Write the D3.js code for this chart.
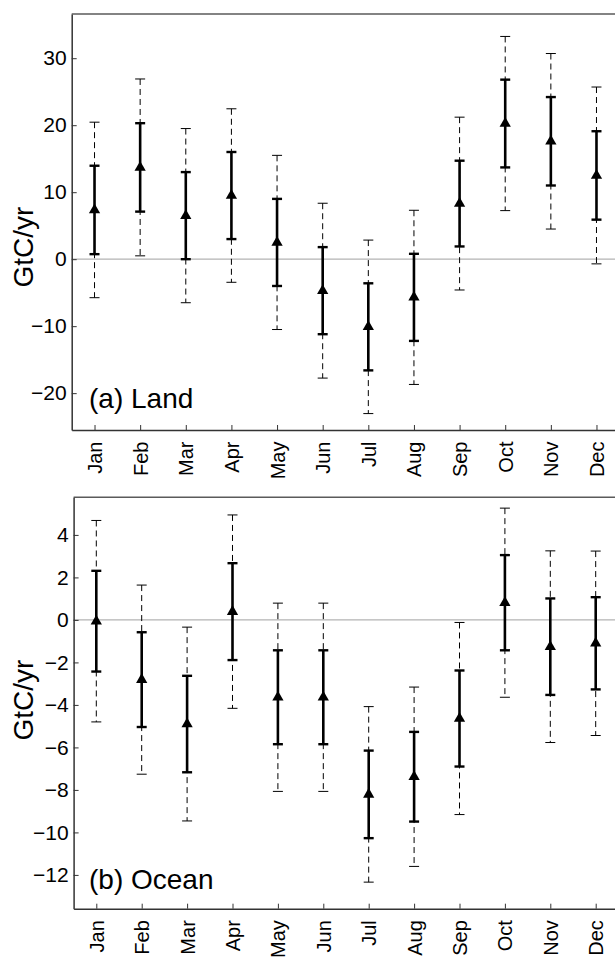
<!DOCTYPE html>
<html><head><meta charset="utf-8">
<script src="https://cdn.jsdelivr.net/npm/d3@7"></script>
<style>
html,body{margin:0;padding:0;background:#fff;}
svg{display:block;font-family:"Liberation Sans",Arial,Helvetica,sans-serif;}
</style></head>
<body><svg id="chart" width="615" height="957"></svg>
<script>
const months = ["Jan","Feb","Mar","Apr","May","Jun","Jul","Aug","Sep","Oct","Nov","Dec"];

const landMean  = [7.35, 13.7, 6.5, 9.5, 2.5, -4.7, -10.1, -5.7, 8.3, 20.25, 17.6, 12.5];
const landInner = [6.6, 6.6, 6.5, 6.5, 6.5, 6.5, 6.5, 6.5, 6.4, 6.55, 6.6, 6.6];
const landOuter = [13.1, 13.2, 13.0, 12.95, 13.0, 13.05, 12.95, 13.0, 12.9, 13.0, 13.1, 13.2];
const landTicks = [-20, -10, 0, 10, 20, 30];

const oceanMean  = [-0.06, -2.81, -4.9, 0.39, -3.64, -3.64, -8.21, -7.38, -4.64, 0.81, -1.26, -1.1];
const oceanInner = [2.37, 2.23, 2.27, 2.28, 2.21, 2.21, 2.06, 2.11, 2.26, 2.24, 2.27, 2.17];
const oceanOuter = [4.74, 4.45, 4.56, 4.55, 4.43, 4.43, 4.13, 4.22, 4.52, 4.45, 4.51, 4.34];
const oceanTicks = [-12, -10, -8, -6, -4, -2, 0, 2, 4];

const svg = d3.select("#chart");

function panel(cfg) {
  const x = d3.scaleLinear().domain([0.5, 12.5]).range([cfg.left, cfg.right]);
  const y = d3.scaleLinear().domain(cfg.ydom).range([cfg.bottom, cfg.top]);
  const g = svg.append("g");

  // zero line
  g.append("line").attr("x1", cfg.left).attr("x2", 615)
    .attr("y1", y(0)).attr("y2", y(0))
    .attr("stroke", "#b3b3b3").attr("stroke-width", 1.2);

  // top frame
  g.append("line").attr("x1", cfg.left).attr("x2", 615)
    .attr("y1", cfg.top).attr("y2", cfg.top)
    .attr("stroke", "#5a5a5a").attr("stroke-width", 1.5);

  // y axis
  const ya = g.append("g").attr("transform", `translate(${cfg.left},0)`)
    .call(d3.axisLeft(y).tickValues(cfg.ticks).tickSizeInner(-5).tickSizeOuter(0).tickPadding(5));
  ya.select(".domain").attr("stroke", "#333").attr("stroke-width", 1.5);
  ya.selectAll(".tick line").attr("stroke", "#333").attr("stroke-width", 1);
  ya.selectAll(".tick text").attr("font-size", 21).attr("fill", "#000")
    .attr("font-family", "'Liberation Sans',Arial,Helvetica,sans-serif");

  // x axis
  const xa = g.append("g").attr("transform", `translate(0,${cfg.bottom})`)
    .call(d3.axisBottom(x).tickValues(d3.range(1, 13)).tickFormat(d => months[d - 1])
      .tickSizeInner(-5).tickSizeOuter(0));
  xa.select(".domain").attr("stroke", "#333").attr("stroke-width", 1.5);
  xa.selectAll(".tick line").attr("stroke", "#333").attr("stroke-width", 1);
  xa.selectAll(".tick text")
    .attr("font-size", 20).attr("fill", "#000")
    .attr("font-family", "'Liberation Sans',Arial,Helvetica,sans-serif")
    .attr("text-anchor", "end")
    .attr("transform", "rotate(-90)")
    .attr("x", -11.5).attr("y", 0).attr("dy", "0.35em");

  const data = cfg.mean.map((m, i) => ({ i: i + 1, m, inner: cfg.inner[i], outer: cfg.outer[i] }));
  const cap = 5;
  const bars = g.selectAll(".bar").data(data).enter().append("g").attr("class", "bar");

  // outer dashed
  bars.append("line")
    .attr("x1", d => x(d.i)).attr("x2", d => x(d.i))
    .attr("y1", d => y(d.m + d.outer)).attr("y2", d => y(d.m - d.outer))
    .attr("stroke", "#000").attr("stroke-width", 1).attr("stroke-dasharray", "6,4");
  [1, -1].forEach(s => {
    bars.append("line")
      .attr("x1", d => x(d.i) - cap).attr("x2", d => x(d.i) + cap)
      .attr("y1", d => y(d.m + s * d.outer)).attr("y2", d => y(d.m + s * d.outer))
      .attr("stroke", "#000").attr("stroke-width", 1);
  });
  // inner solid
  bars.append("line")
    .attr("x1", d => x(d.i)).attr("x2", d => x(d.i))
    .attr("y1", d => y(d.m + d.inner)).attr("y2", d => y(d.m - d.inner))
    .attr("stroke", "#000").attr("stroke-width", 2.6);
  [1, -1].forEach(s => {
    bars.append("line")
      .attr("x1", d => x(d.i) - cap).attr("x2", d => x(d.i) + cap)
      .attr("y1", d => y(d.m + s * d.inner)).attr("y2", d => y(d.m + s * d.inner))
      .attr("stroke", "#000").attr("stroke-width", 2.4);
  });
  // markers
  bars.append("path")
    .attr("d", d3.symbol().type(d3.symbolTriangle).size(55))
    .attr("transform", d => `translate(${x(d.i)},${y(d.m)})`)
    .attr("fill", "#000");

  // panel label
  g.append("text").attr("x", 89).attr("y", cfg.labelY)
    .attr("font-size", 28).attr("fill", "#000").text(cfg.label);

  // y label
  g.append("text")
    .attr("transform", `translate(33,${cfg.ylabY}) rotate(-90)`)
    .attr("text-anchor", "middle").attr("font-size", 28).attr("fill", "#000")
    .text("GtC/yr");
}

panel({ left: 71.7, right: 619.3, top: 14, bottom: 430, ydom: [-25.5, 36.6],
  ticks: landTicks, mean: landMean, inner: landInner, outer: landOuter,
  label: "(a) Land", labelY: 408, ylabY: 247 });

panel({ left: 73.6, right: 618.4, top: 497.3, bottom: 908.7, ydom: [-13.59, 5.77],
  ticks: oceanTicks, mean: oceanMean, inner: oceanInner, outer: oceanOuter,
  label: "(b) Ocean", labelY: 889, ylabY: 700 });
</script></body></html>
